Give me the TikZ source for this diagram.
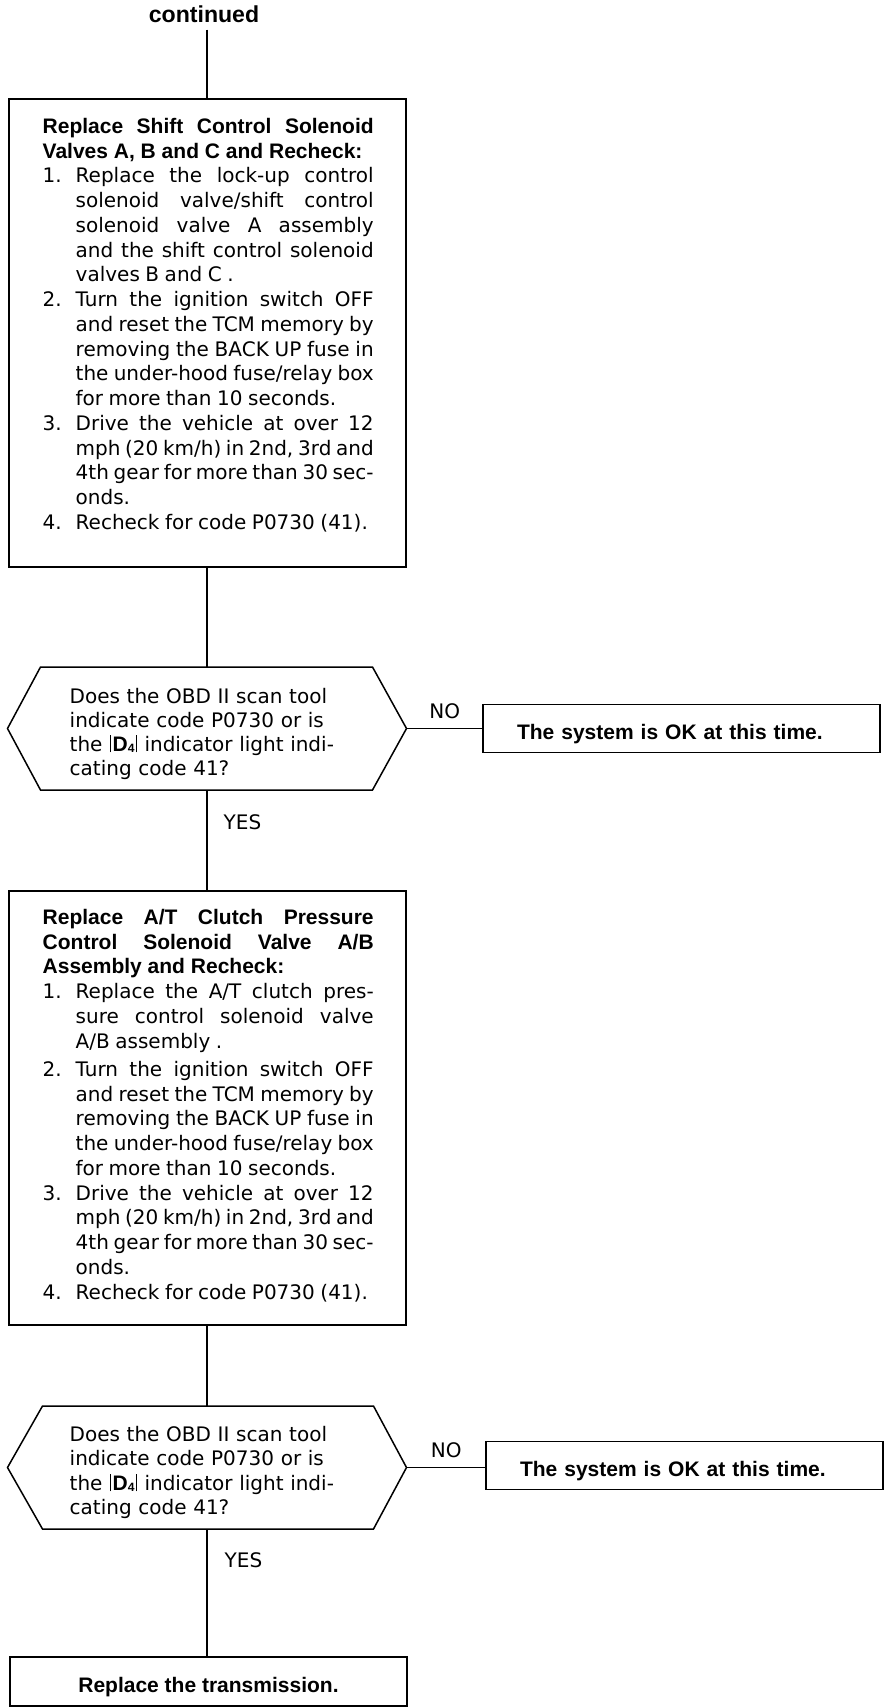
\documentclass[tikz,border=0pt]{standalone}
\usepackage{fontspec}
\setmainfont{DejaVu Sans}
\newfontfamily\headfont{Liberation Sans}[Scale=1.05]
\usetikzlibrary{
  	positioning,
  	calc
  }
\tikzstyle{stepbox}=[draw,line width=2pt,outer sep=0pt,inner sep=0pt,minimum width=397pt]
\tikzstyle{steptext}=[anchor=north west,text width=331pt,inner sep=0pt,align=left]
\tikzstyle{okbox}=[draw,line width=1.8pt,outer sep=0pt,minimum width=397pt,minimum height=48pt,
  text width=329pt,inner xsep=34pt,inner ysep=0pt,align=left,font=\headfont\bfseries,text height=21pt,text depth=0pt]
\tikzstyle{query}=[outer sep=0pt,inner sep=0pt,minimum width=399pt,minimum height=123pt]
\tikzstyle{tag}=[inner sep=0pt]
\tikzstyle{wire}=[line width=1.3pt]
\tikzstyle{hexline}=[line width=1.5pt,line join=miter]

% justified lines: the node's align=left fixes the spaces, so give them stretch again
\newcommand\fillspace{\spaceskip=.278em plus 3em minus .06em\relax}
\newcommand\tightspace{\spaceskip=.278em\relax}
\newcommand\heavy[1]{{\headfont\bfseries #1}}
\newcommand\jline[1]{\makebox[331pt][s]{\fillspace#1}}
\newcommand\numline[2]{\makebox[33pt][l]{#1}\makebox[298pt][s]{\fillspace#2}}
\newcommand\numtail[2]{\makebox[33pt][l]{#1}{\tightspace#2}}
\newcommand\contline[1]{\hspace*{33pt}\makebox[298pt][s]{\fillspace#1}}
\newcommand\tailline[1]{\hspace*{33pt}{\tightspace#1}}
\newcommand\dfour{\kern1pt\rule[-1pt]{0.9pt}{17pt}\kern1.5pt\heavy{D\raisebox{-1pt}{\fontsize{11.5pt}{12pt}\selectfont 4}}\kern1.5pt\rule[-1pt]{0.9pt}{17pt}\kern1pt}

\begin{document}
\fontsize{20pt}{24.75pt}\selectfont
\begin{tikzpicture}[x=1pt,y=-1pt]
  \useasboundingbox (0,0) rectangle (896,1708);
  \node[tag,font=\headfont\bfseries\fontsize{22pt}{24pt}\selectfont] (cont) at (204,14) {continued};
%
  \node[stepbox,minimum height=468pt] (repA) at (207,333) {};
  \node[steptext] (repAtxt) at ($(repA.north west)+(34,19)$) {%
    \heavy{\jline{Replace Shift Control Solenoid}}\\
    \heavy{\tightspace Valves A, B and C and Recheck:}\\
    \numline{1.}{Replace the lock-up control}\\
    \contline{solenoid valve/shift control}\\
    \contline{solenoid valve A assembly}\\
    \contline{and the shift control solenoid}\\
    \tailline{valves B and C .}\\
    \numline{2.}{Turn the ignition switch OFF}\\
    \contline{and reset the TCM memory by}\\
    \contline{removing the BACK UP fuse in}\\
    \contline{the under-hood fuse/relay box}\\
    \tailline{for more than 10 seconds.}\\
    \numline{3.}{Drive the vehicle at over 12}\\
    \contline{mph (20 km/h) in 2nd, 3rd and}\\
    \contline{4th gear for more than 30 sec-}\\
    \tailline{onds.}\\
    \numtail{4.}{Recheck for code P0730 (41).}};
%
  \node[query] (qA) at (207,728.5) {};
  \draw[hexline] (qA.west) -- ([xshift=33pt]qA.north west) -- ([xshift=-34pt]qA.north east)
    -- (qA.east) -- ([xshift=-34pt]qA.south east) -- ([xshift=33pt]qA.south west) -- cycle;
  \node[steptext,font=\fontsize{20pt}{24pt}\selectfont] (qAtxt) at ($(qA.north west)+(62,21)$) {%
    Does the OBD II scan tool\\
    indicate code P0730 or is\\
    the \dfour{} indicator light indi-\\
    cating code 41?};
  \node[okbox] (okA) at (681.5,728.5) {The system is OK at this time.};
%
  \node[stepbox,minimum height=434pt] (repB) at (207,1108) {};
  \node[steptext] (repBtxt) at ($(repB.north west)+(34,18)$) {%
    \heavy{\jline{Replace A/T Clutch Pressure}}\\
    \heavy{\jline{Control Solenoid Valve A/B}}\\
    \heavy{\tightspace Assembly and Recheck:}\\
    \numline{1.}{Replace the A/T clutch pres-}\\
    \contline{sure control solenoid valve}\\
    \tailline{A/B assembly .}\\[3.5pt]
    \numline{2.}{Turn the ignition switch OFF}\\
    \contline{and reset the TCM memory by}\\
    \contline{removing the BACK UP fuse in}\\
    \contline{the under-hood fuse/relay box}\\
    \tailline{for more than 10 seconds.}\\
    \numline{3.}{Drive the vehicle at over 12}\\
    \contline{mph (20 km/h) in 2nd, 3rd and}\\
    \contline{4th gear for more than 30 sec-}\\
    \tailline{onds.}\\
    \numtail{4.}{Recheck for code P0730 (41).}};
%
  \node[query] (qB) at (207,1467.5) {};
  \draw[hexline] (qB.west) -- ([xshift=35pt]qB.north west) -- ([xshift=-33pt]qB.north east)
    -- (qB.east) -- ([xshift=-33pt]qB.south east) -- ([xshift=35pt]qB.south west) -- cycle;
  \node[steptext,font=\fontsize{20pt}{24.5pt}\selectfont] (qBtxt) at ($(qB.north west)+(62,20)$) {%
    Does the OBD II scan tool\\
    indicate code P0730 or is\\
    the \dfour{} indicator light indi-\\
    cating code 41?};
  \node[okbox] (okB) at (684.5,1465.5) {The system is OK at this time.};
%
  \node[stepbox,minimum height=49pt,font=\headfont\bfseries,text height=21pt,text depth=0pt] (endC) at (208.5,1681.5) {Replace the transmission.};
%
  \draw[wire] (repA.north |- cont.south) ++(0,7) -- (repA.north);
  \draw[wire] (repA.south) -- (qA.north);
  \draw[wire] (qA.east) -- node[tag,above=9pt] (noA) {NO} (okA.west |- qA.east);
  \draw[wire] (qA.south) -- node[tag,pos=.32,right=16pt] (yesA) {YES} (repB.north);
  \draw[wire] (repB.south) -- (qB.north);
  \draw[wire] (qB.east) -- node[tag,above=9pt] (noB) {NO} (okB.west |- qB.east);
  \draw[wire] (qB.south) -- node[tag,pos=.24,right=17pt] (yesB) {YES} (qB.south |- endC.north);
\end{tikzpicture}
\end{document}
